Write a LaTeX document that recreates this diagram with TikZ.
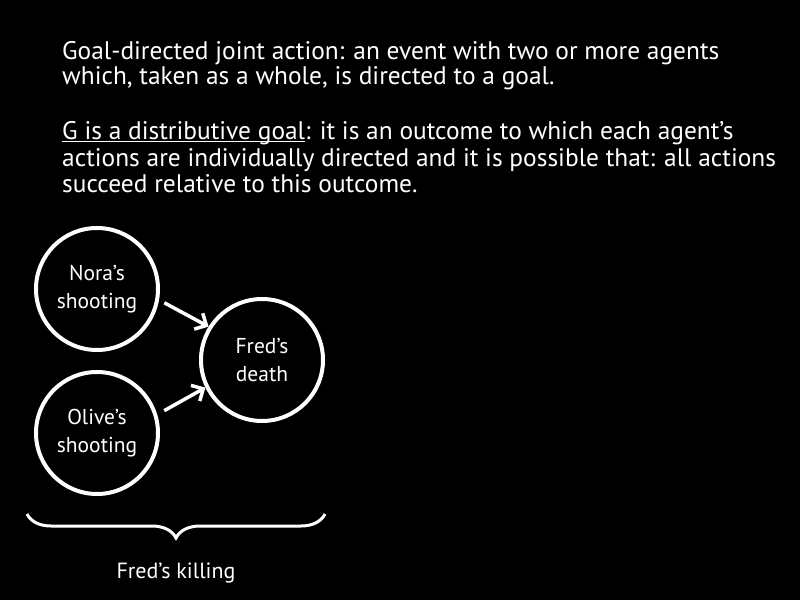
\documentclass[tikz,border=0pt]{standalone}
\usepackage{fontspec}
\setmainfont{PT Sans}
\usetikzlibrary{arrows.meta,decorations.pathreplacing}

\tikzset{
  event/.style={circle, draw=white, line width=4pt, minimum size=122pt, inner sep=0pt,
    align=center, text=white, font=\fontsize{21.5}{28}\selectfont},
  cause/.style={white, line width=3.5pt, -{Straight Barb[length=9pt,width=18pt]}},
}

\begin{document}
\begin{tikzpicture}[x=1pt,y=1pt]
  \fill[black] (0,0) rectangle (800,600);
  \useasboundingbox (0,0) rectangle (800,600);

  \node[anchor=base west, align=left, inner sep=0pt, text=white,
    font=\fontsize{25.4}{25}\selectfont] (joint) at (62,515)
    {Goal-directed joint action: an event with two or more agents\\
     which, taken as a whole, is directed to a goal.};
  \node[anchor=base west, align=left, inner sep=0pt, text=white,
    font=\fontsize{25.4}{26.5}\selectfont] (distgoal) at (62,407)
    {\underline{\smash{G is a distributive goal}}: it is an outcome to which each agent’s\\
     actions are individually directed and it is possible that: all actions\\
     succeed relative to this outcome.};

  \node[event] (nora) at (97,311) {Nora’s\\shooting};
  \node[event] (olive) at (97,167) {Olive’s\\shooting};
  \node[event] (death) at (262,240) {Fred’s\\death};

  \draw[cause, shorten <=6pt] (nora.-10) -- (death.148);
  \draw[cause, shorten <=8pt] (olive.17) -- (death.206);

  \coordinate (bl) at (27,86);
  \coordinate (br) at (325,86);
  \draw[white, line width=3pt, decorate, decoration={brace, mirror, amplitude=24pt}] (bl) -- (br);
  \node[text=white, font=\fontsize{22}{28}\selectfont] (killing) at (176,27) {Fred’s killing};
\end{tikzpicture}
\end{document}
